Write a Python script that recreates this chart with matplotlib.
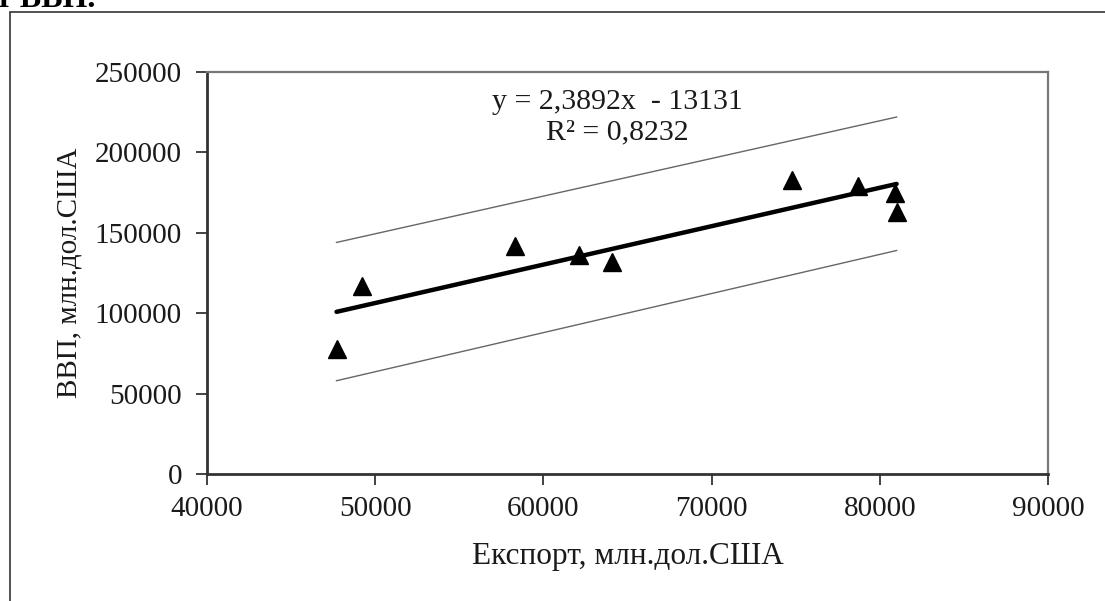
import matplotlib
matplotlib.use("Agg")
import matplotlib.pyplot as plt
from matplotlib.patches import Rectangle

# Data
export_x = [47700, 49200, 58300, 62100, 64100, 74800, 78700, 80900, 81000]
gdp_y = [78000, 117000, 142000, 136000, 132000, 183000, 179000, 175000, 163000]
slope = 2.3892
intercept = -13131
band_x = [47700, 81000]
band_upper = [144000, 222000]
band_lower = [58000, 139000]
xticks = [40000, 50000, 60000, 70000, 80000, 90000]
yticks = [0, 50000, 100000, 150000, 200000, 250000]
eq_text = "y = 2,3892x  - 13131\nR² = 0,8232"
xlabel = "Експорт, млн.дол.США"
ylabel = "ВВП, млн.дол.США"

plt.rcParams['font.family'] = ['Liberation Serif', 'DejaVu Serif']

W, H = 1105, 601
fig = plt.figure(figsize=(W / 100, H / 100), dpi=100)
fig.patch.set_facecolor('white')

# outer frame of the chart object
fig.patches.append(Rectangle((10 / W, -0.1), 1.2, 1 - 12 / H + 0.1,
                             transform=fig.transFigure, fill=False,
                             edgecolor='#333333', linewidth=1.2))
# cut-off document text at top
fig.text(-4 / W, 1 - 7 / H, "т ВВП.", fontsize=23, fontweight='bold',
         va='baseline', ha='left', color='black')

ax = fig.add_axes([207 / W, 1 - 474 / H, (1048 - 207) / W, (474 - 72) / H])
ax.set_xlim(40000, 90000)
ax.set_ylim(0, 250000)
ax.set_xticks(xticks)
ax.set_yticks(yticks)
ax.set_xticklabels([str(v) for v in xticks], fontsize=21)
ax.set_yticklabels([str(v) for v in yticks], fontsize=21)
ax.tick_params(axis='y', direction='out', length=8, width=1.2, pad=10, colors='#222222')
ax.tick_params(axis='x', direction='out', length=8, width=1.2, pad=8, colors='#222222')
for lbl in ax.get_xticklabels() + ax.get_yticklabels():
    lbl.set_color('#1a1a1a')

for side in ['left', 'bottom']:
    ax.spines[side].set_color('#333333')
    ax.spines[side].set_linewidth(2.0)
for side in ['top', 'right']:
    ax.spines[side].set_color('#777777')
    ax.spines[side].set_linewidth(1.6)

# prediction band lines
ax.plot(band_x, band_upper, color='#666666', linewidth=1.0, zorder=2)
ax.plot(band_x, band_lower, color='#666666', linewidth=1.0, zorder=2)

# trend line
tx = [min(export_x), max(export_x)]
ty = [slope * v + intercept for v in tx]
ax.plot(tx, ty, color='black', linewidth=3.2, solid_capstyle='round', zorder=3)

# data points
ax.plot(export_x, gdp_y, linestyle='none', marker='^', markersize=13,
        color='black', zorder=4)

ax.text(64400, 222000, eq_text, ha='center', va='center', fontsize=21.5,
        linespacing=1.25, color='#1a1a1a')

ax.set_xlabel(xlabel, fontsize=22.5, labelpad=14, color='#1a1a1a')
ax.set_ylabel(ylabel, fontsize=21, labelpad=9, color='#1a1a1a')

fig.savefig("out.png", dpi=100, facecolor='white')
